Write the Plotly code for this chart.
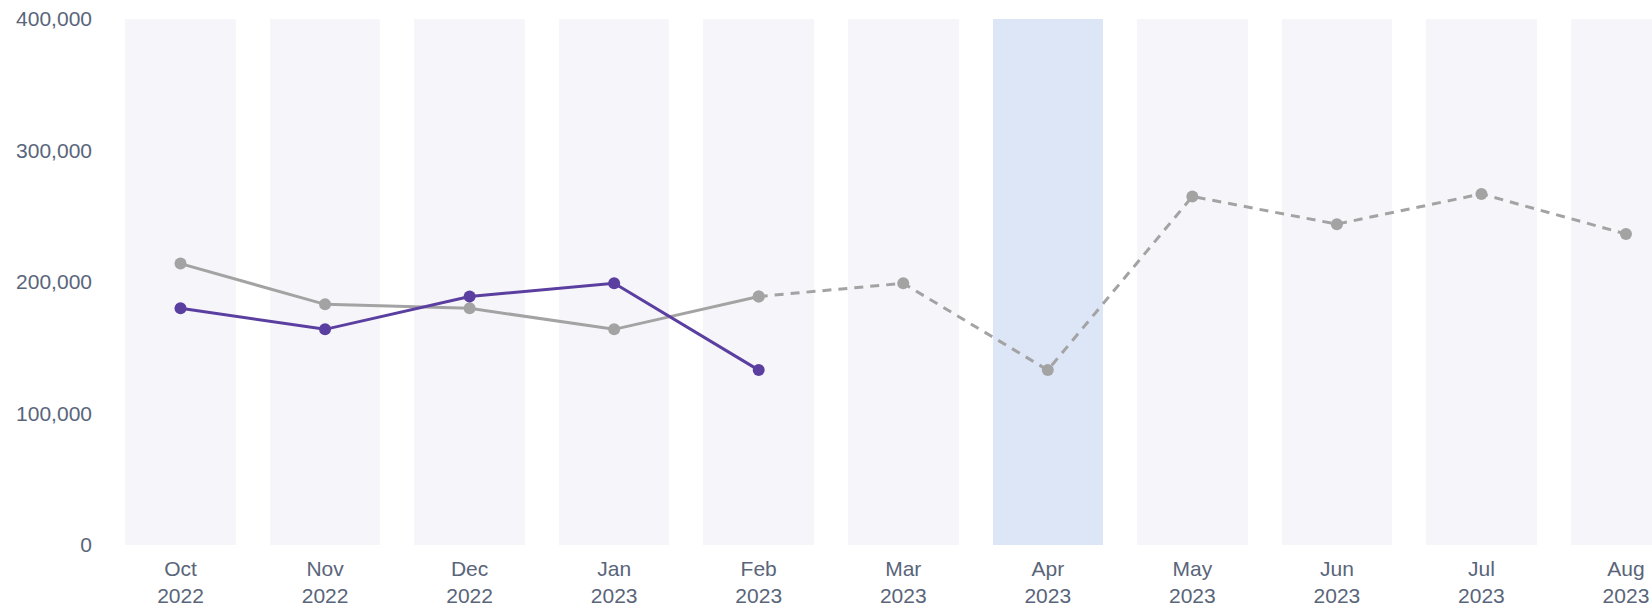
import plotly.graph_objects as go

months = ["Oct<br>2022", "Nov<br>2022", "Dec<br>2022", "Jan<br>2023", "Feb<br>2023",
          "Mar<br>2023", "Apr<br>2023", "May<br>2023", "Jun<br>2023", "Jul<br>2023", "Aug<br>2023"]
actual = [180000, 164000, 189000, 199000, 133000]
reference_solid = [214000, 183000, 180000, 164000, 189000]
reference_dashed = [189000, 199000, 133000, 265000, 244000, 267000, 236500]
band_top = 400000
highlight_month = "Apr<br>2023"

TEXT = "#59657a"
PURPLE = "#5b3fa0"
GRAY = "#a3a3a3"

fig = go.Figure()
fig.add_trace(go.Bar(
    x=months, y=[band_top] * len(months), width=0.765,
    marker=dict(color=["#dde6f6" if m == highlight_month else "#f6f6fa" for m in months], line=dict(width=0)),
    hoverinfo="skip", showlegend=False,
))
fig.add_trace(go.Scatter(
    x=months[4:], y=reference_dashed, mode="lines+markers",
    line=dict(color=GRAY, width=3, dash="9px,7px"),
    marker=dict(color=GRAY, size=12), showlegend=False,
))
fig.add_trace(go.Scatter(
    x=months[:5], y=reference_solid, mode="lines+markers",
    line=dict(color=GRAY, width=3),
    marker=dict(color=GRAY, size=12), showlegend=False,
))
fig.add_trace(go.Scatter(
    x=months[:5], y=actual, mode="lines+markers",
    line=dict(color=PURPLE, width=3),
    marker=dict(color=PURPLE, size=12), showlegend=False,
))

fig.update_layout(
    width=1652, height=610,
    margin=dict(l=100, r=0, t=19, b=65),
    paper_bgcolor="white", plot_bgcolor="white",
    font=dict(family="Liberation Sans, Arial, sans-serif", size=21, color=TEXT),
    bargap=0,
)
fig.update_xaxes(type="category", range=[-0.557, 10.18], showgrid=False, zeroline=False,
                 showline=False, ticks="", automargin=False, ticklabelstandoff=9,
                 tickfont=dict(size=21, color=TEXT))
fig.update_yaxes(range=[0, 400000], tickvals=[0, 100000, 200000, 300000, 400000],
                 tickformat=",", showgrid=False, zeroline=False, showline=False, ticks="",
                 automargin=False, ticklabelstandoff=7, tickfont=dict(size=21, color=TEXT))

fig.write_html("out.html", config={"displayModeBar": False},
               post_script="document.body.style.margin='0';document.body.style.overflow='hidden';")
